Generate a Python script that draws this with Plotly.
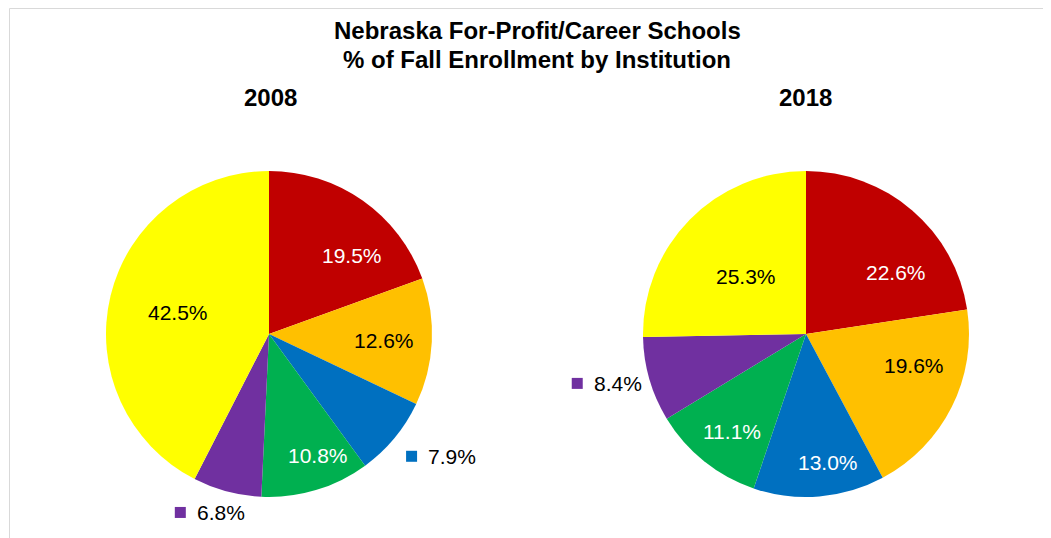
import math
import plotly.graph_objects as go

# The page body adds an 8px margin, so the figure is sized to fill the rest of the window.
W, H = 1043, 530

categories = ["Institution A", "Institution B", "Institution C", "Institution D", "Institution E", "Institution F"]
colors = ["#C00000", "#FFC000", "#0070C0", "#00B050", "#7030A0", "#FFFF00"]
values_2008 = [19.5, 12.6, 7.9, 10.8, 6.8, 42.5]
values_2018 = [22.6, 19.6, 13.0, 11.1, 8.4, 25.3]
years = ["2008", "2018"]

# style: label placement = (radial fraction of radius, angle offset in degrees from slice middle)
# fraction > 1 means an outside label with a colour key square
label_pos_2008 = [(0.695, 12.0), (0.707, 0.7), (1.231, -2.1), (0.81, -5.0), (1.181, 7.1), (0.573, -0.6)]
label_pos_2018 = [(0.665, 15.2), (0.69, -9.6), (0.806, -4.9), (0.756, -1.9), (1.337, 3.1), (0.506, -1.0)]
text_col = {"#C00000": "white", "#FFC000": "black", "#0070C0": "white",
            "#00B050": "white", "#7030A0": "white", "#FFFF00": "black"}

centers = [(261, 326), (798, 326)]   # pixel centres inside the figure
R = 163
FONT = "Liberation Sans, Arial, sans-serif"

fig = go.Figure()
annotations = []
shapes = []
for vals, lpos, (cx, cy) in [
    (values_2008, label_pos_2008, centers[0]),
    (values_2018, label_pos_2018, centers[1]),
]:
    fig.add_trace(go.Pie(
        labels=categories, values=vals, sort=False, direction="clockwise",
        rotation=0, marker=dict(colors=colors, line=dict(width=0)),
        textinfo="none", hoverinfo="label+value", showlegend=False,
        domain=dict(x=[(cx - R) / W, (cx + R) / W],
                    y=[(H - cy - R) / H, (H - cy + R) / H]),
    ))
    total = sum(vals)
    cum = 0.0
    for v, (f, dth), col in zip(vals, lpos, colors):
        mid = (cum + v / 2) / total * 2 * math.pi + math.radians(dth)
        cum += v
        px = cx + f * R * math.sin(mid)
        py = cy - f * R * math.cos(mid)
        if f > 1:
            annotations.append(dict(
                x=px / W, y=1 - py / H, xref="paper", yref="paper",
                text=f"{v:.1f}%", showarrow=False,
                font=dict(family=FONT, size=21, color="black"),
                xanchor="left", yanchor="middle", xshift=-2,
            ))
            shapes.append(dict(
                type="rect", xref="paper", yref="paper",
                x0=(px - 22) / W, x1=(px - 11) / W,
                y0=1 - (py + 5.5) / H, y1=1 - (py - 5.5) / H,
                fillcolor=col, line=dict(width=0),
            ))
        else:
            annotations.append(dict(
                x=px / W, y=1 - py / H, xref="paper", yref="paper",
                text=f"{v:.1f}%", showarrow=False,
                font=dict(family=FONT, size=21, color=text_col[col]),
                xanchor="center", yanchor="middle", yshift=1,
            ))

for yr, x in zip(years, [262, 797.5]):
    annotations.append(dict(
        x=x / W, y=1 - 90 / H, xref="paper", yref="paper", text=f"<b>{yr}</b>",
        showarrow=False, xanchor="center", yanchor="middle",
        font=dict(family=FONT, size=24, color="black"),
    ))

for line, y in [("Nebraska For-Profit/Career Schools", 23), ("% of Fall Enrollment by Institution", 52)]:
    annotations.append(dict(
        x=529 / W, y=1 - y / H, xref="paper", yref="paper",
        text=f"<b>{line}</b>", showarrow=False, xanchor="center", yanchor="middle",
        font=dict(family=FONT, size=24, color="black"),
    ))

shapes += [
    dict(type="line", xref="paper", yref="paper", x0=1.5 / W, x1=1.0, y0=1 - 0.5 / H, y1=1 - 0.5 / H,
         line=dict(color="#D9D9D9", width=1)),
    dict(type="line", xref="paper", yref="paper", x0=1.5 / W, x1=1.5 / W, y0=0, y1=1 - 0.5 / H,
         line=dict(color="#D9D9D9", width=1)),
]

fig.update_layout(
    width=W, height=H, margin=dict(l=0, r=0, t=0, b=0),
    paper_bgcolor="white", plot_bgcolor="white",
    annotations=annotations, shapes=shapes,
)
fig.write_html("out.html")
